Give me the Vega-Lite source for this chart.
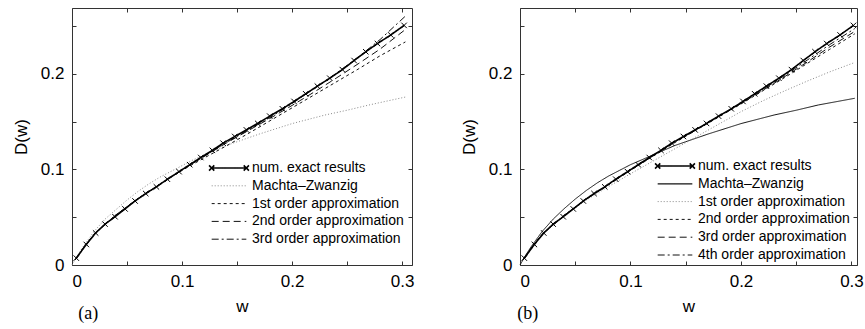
{
  "$schema": "https://vega.github.io/schema/vega-lite/v6.json",
  "padding": {"left": 11, "top": 7, "right": 0, "bottom": 0},
  "background": "white",
  "config": {
    "font": "Liberation Sans",
    "view": {"stroke": "#333", "strokeWidth": 1},
    "axis": {"grid": false, "domain": false, "labelFont": "Liberation Sans", "labelFontSize": 17, "labelColor": "#000", "titleFont": "Liberation Sans", "titleFontSize": 17, "titleFontWeight": "normal", "titleColor": "#000", "tickColor": "#333", "tickSize": -4, "tickWidth": 1, "labelPadding": 12},
    "legend": {"labelFont": "Liberation Sans", "labelFontSize": 14, "labelColor": "#000", "symbolType": "stroke", "symbolSize": 1200, "symbolStrokeColor": "#000", "labelLimit": 0, "labelOffset": 16, "rowPadding": 3.8, "title": null, "orient": "none"}
  },
  "datasets": {
    "exact": [
      {"s": "num. exact results", "w": 0.0039, "D": 0.0072},
      {"s": "num. exact results", "w": 0.0130, "D": 0.0215},
      {"s": "num. exact results", "w": 0.0215, "D": 0.0335},
      {"s": "num. exact results", "w": 0.0300, "D": 0.0428},
      {"s": "num. exact results", "w": 0.0391, "D": 0.0505},
      {"s": "num. exact results", "w": 0.0482, "D": 0.0587},
      {"s": "num. exact results", "w": 0.0573, "D": 0.0670},
      {"s": "num. exact results", "w": 0.0670, "D": 0.0748},
      {"s": "num. exact results", "w": 0.0767, "D": 0.0818},
      {"s": "num. exact results", "w": 0.0867, "D": 0.0898},
      {"s": "num. exact results", "w": 0.0973, "D": 0.0977},
      {"s": "num. exact results", "w": 0.1070, "D": 0.1050},
      {"s": "num. exact results", "w": 0.1170, "D": 0.1125},
      {"s": "num. exact results", "w": 0.1276, "D": 0.1200},
      {"s": "num. exact results", "w": 0.1373, "D": 0.1275},
      {"s": "num. exact results", "w": 0.1479, "D": 0.1345},
      {"s": "num. exact results", "w": 0.1585, "D": 0.1414},
      {"s": "num. exact results", "w": 0.1688, "D": 0.1482},
      {"s": "num. exact results", "w": 0.1797, "D": 0.1558},
      {"s": "num. exact results", "w": 0.1912, "D": 0.1635},
      {"s": "num. exact results", "w": 0.2018, "D": 0.1712},
      {"s": "num. exact results", "w": 0.2124, "D": 0.1792},
      {"s": "num. exact results", "w": 0.2230, "D": 0.1872},
      {"s": "num. exact results", "w": 0.2343, "D": 0.1955},
      {"s": "num. exact results", "w": 0.2457, "D": 0.2045},
      {"s": "num. exact results", "w": 0.2564, "D": 0.2140},
      {"s": "num. exact results", "w": 0.2670, "D": 0.2232},
      {"s": "num. exact results", "w": 0.2776, "D": 0.2318},
      {"s": "num. exact results", "w": 0.2897, "D": 0.2408},
      {"s": "num. exact results", "w": 0.3018, "D": 0.2508}
    ],
    "curves": [
      {"p": "a", "s": "Machta–Zwanzig", "w": 0.000, "D": 0.000},
      {"p": "a", "s": "Machta–Zwanzig", "w": 0.005, "D": 0.010},
      {"p": "a", "s": "Machta–Zwanzig", "w": 0.010, "D": 0.019},
      {"p": "a", "s": "Machta–Zwanzig", "w": 0.020, "D": 0.035},
      {"p": "a", "s": "Machta–Zwanzig", "w": 0.030, "D": 0.048},
      {"p": "a", "s": "Machta–Zwanzig", "w": 0.040, "D": 0.058},
      {"p": "a", "s": "Machta–Zwanzig", "w": 0.050, "D": 0.068},
      {"p": "a", "s": "Machta–Zwanzig", "w": 0.060, "D": 0.077},
      {"p": "a", "s": "Machta–Zwanzig", "w": 0.070, "D": 0.085},
      {"p": "a", "s": "Machta–Zwanzig", "w": 0.080, "D": 0.092},
      {"p": "a", "s": "Machta–Zwanzig", "w": 0.090, "D": 0.098},
      {"p": "a", "s": "Machta–Zwanzig", "w": 0.100, "D": 0.104},
      {"p": "a", "s": "Machta–Zwanzig", "w": 0.110, "D": 0.110},
      {"p": "a", "s": "Machta–Zwanzig", "w": 0.120, "D": 0.115},
      {"p": "a", "s": "Machta–Zwanzig", "w": 0.130, "D": 0.120},
      {"p": "a", "s": "Machta–Zwanzig", "w": 0.140, "D": 0.125},
      {"p": "a", "s": "Machta–Zwanzig", "w": 0.150, "D": 0.129},
      {"p": "a", "s": "Machta–Zwanzig", "w": 0.170, "D": 0.137},
      {"p": "a", "s": "Machta–Zwanzig", "w": 0.200, "D": 0.148},
      {"p": "a", "s": "Machta–Zwanzig", "w": 0.230, "D": 0.157},
      {"p": "a", "s": "Machta–Zwanzig", "w": 0.250, "D": 0.162},
      {"p": "a", "s": "Machta–Zwanzig", "w": 0.270, "D": 0.1675},
      {"p": "a", "s": "Machta–Zwanzig", "w": 0.303, "D": 0.1758},

      {"p": "a", "s": "1st order approximation", "w": 0.003, "D": 0.0055},
      {"p": "a", "s": "1st order approximation", "w": 0.010, "D": 0.0175},
      {"p": "a", "s": "1st order approximation", "w": 0.020, "D": 0.0320},
      {"p": "a", "s": "1st order approximation", "w": 0.040, "D": 0.0525},
      {"p": "a", "s": "1st order approximation", "w": 0.060, "D": 0.0695},
      {"p": "a", "s": "1st order approximation", "w": 0.080, "D": 0.0845},
      {"p": "a", "s": "1st order approximation", "w": 0.100, "D": 0.0990},
      {"p": "a", "s": "1st order approximation", "w": 0.120, "D": 0.1120},
      {"p": "a", "s": "1st order approximation", "w": 0.140, "D": 0.1245},
      {"p": "a", "s": "1st order approximation", "w": 0.160, "D": 0.1375},
      {"p": "a", "s": "1st order approximation", "w": 0.180, "D": 0.1510},
      {"p": "a", "s": "1st order approximation", "w": 0.200, "D": 0.1645},
      {"p": "a", "s": "1st order approximation", "w": 0.220, "D": 0.1780},
      {"p": "a", "s": "1st order approximation", "w": 0.240, "D": 0.1915},
      {"p": "a", "s": "1st order approximation", "w": 0.260, "D": 0.2050},
      {"p": "a", "s": "1st order approximation", "w": 0.280, "D": 0.2190},
      {"p": "a", "s": "1st order approximation", "w": 0.303, "D": 0.2335},

      {"p": "a", "s": "2nd order approximation", "w": 0.003, "D": 0.0055},
      {"p": "a", "s": "2nd order approximation", "w": 0.010, "D": 0.0175},
      {"p": "a", "s": "2nd order approximation", "w": 0.020, "D": 0.0320},
      {"p": "a", "s": "2nd order approximation", "w": 0.040, "D": 0.0525},
      {"p": "a", "s": "2nd order approximation", "w": 0.060, "D": 0.0695},
      {"p": "a", "s": "2nd order approximation", "w": 0.080, "D": 0.0845},
      {"p": "a", "s": "2nd order approximation", "w": 0.100, "D": 0.0995},
      {"p": "a", "s": "2nd order approximation", "w": 0.120, "D": 0.1135},
      {"p": "a", "s": "2nd order approximation", "w": 0.140, "D": 0.1275},
      {"p": "a", "s": "2nd order approximation", "w": 0.160, "D": 0.1405},
      {"p": "a", "s": "2nd order approximation", "w": 0.180, "D": 0.1535},
      {"p": "a", "s": "2nd order approximation", "w": 0.200, "D": 0.1670},
      {"p": "a", "s": "2nd order approximation", "w": 0.220, "D": 0.1810},
      {"p": "a", "s": "2nd order approximation", "w": 0.240, "D": 0.1955},
      {"p": "a", "s": "2nd order approximation", "w": 0.260, "D": 0.2105},
      {"p": "a", "s": "2nd order approximation", "w": 0.280, "D": 0.2260},
      {"p": "a", "s": "2nd order approximation", "w": 0.303, "D": 0.2465},

      {"p": "a", "s": "3rd order approximation", "w": 0.003, "D": 0.0055},
      {"p": "a", "s": "3rd order approximation", "w": 0.010, "D": 0.0175},
      {"p": "a", "s": "3rd order approximation", "w": 0.020, "D": 0.0320},
      {"p": "a", "s": "3rd order approximation", "w": 0.040, "D": 0.0525},
      {"p": "a", "s": "3rd order approximation", "w": 0.060, "D": 0.0695},
      {"p": "a", "s": "3rd order approximation", "w": 0.080, "D": 0.0845},
      {"p": "a", "s": "3rd order approximation", "w": 0.100, "D": 0.0995},
      {"p": "a", "s": "3rd order approximation", "w": 0.120, "D": 0.1140},
      {"p": "a", "s": "3rd order approximation", "w": 0.140, "D": 0.1280},
      {"p": "a", "s": "3rd order approximation", "w": 0.160, "D": 0.1410},
      {"p": "a", "s": "3rd order approximation", "w": 0.180, "D": 0.1545},
      {"p": "a", "s": "3rd order approximation", "w": 0.200, "D": 0.1690},
      {"p": "a", "s": "3rd order approximation", "w": 0.220, "D": 0.1845},
      {"p": "a", "s": "3rd order approximation", "w": 0.240, "D": 0.2005},
      {"p": "a", "s": "3rd order approximation", "w": 0.260, "D": 0.2175},
      {"p": "a", "s": "3rd order approximation", "w": 0.280, "D": 0.2360},
      {"p": "a", "s": "3rd order approximation", "w": 0.303, "D": 0.2605},

      {"p": "b", "s": "Machta–Zwanzig", "w": 0.000, "D": 0.000},
      {"p": "b", "s": "Machta–Zwanzig", "w": 0.005, "D": 0.010},
      {"p": "b", "s": "Machta–Zwanzig", "w": 0.010, "D": 0.019},
      {"p": "b", "s": "Machta–Zwanzig", "w": 0.020, "D": 0.035},
      {"p": "b", "s": "Machta–Zwanzig", "w": 0.030, "D": 0.048},
      {"p": "b", "s": "Machta–Zwanzig", "w": 0.040, "D": 0.059},
      {"p": "b", "s": "Machta–Zwanzig", "w": 0.050, "D": 0.069},
      {"p": "b", "s": "Machta–Zwanzig", "w": 0.060, "D": 0.078},
      {"p": "b", "s": "Machta–Zwanzig", "w": 0.070, "D": 0.086},
      {"p": "b", "s": "Machta–Zwanzig", "w": 0.080, "D": 0.093},
      {"p": "b", "s": "Machta–Zwanzig", "w": 0.090, "D": 0.099},
      {"p": "b", "s": "Machta–Zwanzig", "w": 0.100, "D": 0.105},
      {"p": "b", "s": "Machta–Zwanzig", "w": 0.110, "D": 0.110},
      {"p": "b", "s": "Machta–Zwanzig", "w": 0.120, "D": 0.115},
      {"p": "b", "s": "Machta–Zwanzig", "w": 0.130, "D": 0.120},
      {"p": "b", "s": "Machta–Zwanzig", "w": 0.140, "D": 0.125},
      {"p": "b", "s": "Machta–Zwanzig", "w": 0.150, "D": 0.129},
      {"p": "b", "s": "Machta–Zwanzig", "w": 0.170, "D": 0.137},
      {"p": "b", "s": "Machta–Zwanzig", "w": 0.200, "D": 0.148},
      {"p": "b", "s": "Machta–Zwanzig", "w": 0.230, "D": 0.157},
      {"p": "b", "s": "Machta–Zwanzig", "w": 0.250, "D": 0.162},
      {"p": "b", "s": "Machta–Zwanzig", "w": 0.270, "D": 0.1675},
      {"p": "b", "s": "Machta–Zwanzig", "w": 0.303, "D": 0.1745},

      {"p": "b", "s": "1st order approximation", "w": 0.003, "D": 0.0055},
      {"p": "b", "s": "1st order approximation", "w": 0.010, "D": 0.0175},
      {"p": "b", "s": "1st order approximation", "w": 0.020, "D": 0.0315},
      {"p": "b", "s": "1st order approximation", "w": 0.040, "D": 0.0515},
      {"p": "b", "s": "1st order approximation", "w": 0.060, "D": 0.0680},
      {"p": "b", "s": "1st order approximation", "w": 0.080, "D": 0.0820},
      {"p": "b", "s": "1st order approximation", "w": 0.100, "D": 0.0955},
      {"p": "b", "s": "1st order approximation", "w": 0.120, "D": 0.1085},
      {"p": "b", "s": "1st order approximation", "w": 0.140, "D": 0.1215},
      {"p": "b", "s": "1st order approximation", "w": 0.160, "D": 0.1345},
      {"p": "b", "s": "1st order approximation", "w": 0.180, "D": 0.1475},
      {"p": "b", "s": "1st order approximation", "w": 0.200, "D": 0.1605},
      {"p": "b", "s": "1st order approximation", "w": 0.220, "D": 0.1720},
      {"p": "b", "s": "1st order approximation", "w": 0.240, "D": 0.1825},
      {"p": "b", "s": "1st order approximation", "w": 0.260, "D": 0.1925},
      {"p": "b", "s": "1st order approximation", "w": 0.280, "D": 0.2020},
      {"p": "b", "s": "1st order approximation", "w": 0.303, "D": 0.2120},

      {"p": "b", "s": "2nd order approximation", "w": 0.003, "D": 0.0055},
      {"p": "b", "s": "2nd order approximation", "w": 0.010, "D": 0.0175},
      {"p": "b", "s": "2nd order approximation", "w": 0.020, "D": 0.0320},
      {"p": "b", "s": "2nd order approximation", "w": 0.040, "D": 0.0520},
      {"p": "b", "s": "2nd order approximation", "w": 0.060, "D": 0.0690},
      {"p": "b", "s": "2nd order approximation", "w": 0.080, "D": 0.0840},
      {"p": "b", "s": "2nd order approximation", "w": 0.100, "D": 0.0990},
      {"p": "b", "s": "2nd order approximation", "w": 0.120, "D": 0.1135},
      {"p": "b", "s": "2nd order approximation", "w": 0.140, "D": 0.1280},
      {"p": "b", "s": "2nd order approximation", "w": 0.160, "D": 0.1415},
      {"p": "b", "s": "2nd order approximation", "w": 0.180, "D": 0.1550},
      {"p": "b", "s": "2nd order approximation", "w": 0.200, "D": 0.1685},
      {"p": "b", "s": "2nd order approximation", "w": 0.220, "D": 0.1825},
      {"p": "b", "s": "2nd order approximation", "w": 0.240, "D": 0.1965},
      {"p": "b", "s": "2nd order approximation", "w": 0.260, "D": 0.2110},
      {"p": "b", "s": "2nd order approximation", "w": 0.280, "D": 0.2255},
      {"p": "b", "s": "2nd order approximation", "w": 0.303, "D": 0.2420},

      {"p": "b", "s": "3rd order approximation", "w": 0.003, "D": 0.0055},
      {"p": "b", "s": "3rd order approximation", "w": 0.010, "D": 0.0175},
      {"p": "b", "s": "3rd order approximation", "w": 0.020, "D": 0.0320},
      {"p": "b", "s": "3rd order approximation", "w": 0.040, "D": 0.0520},
      {"p": "b", "s": "3rd order approximation", "w": 0.060, "D": 0.0690},
      {"p": "b", "s": "3rd order approximation", "w": 0.080, "D": 0.0840},
      {"p": "b", "s": "3rd order approximation", "w": 0.100, "D": 0.0993},
      {"p": "b", "s": "3rd order approximation", "w": 0.120, "D": 0.1140},
      {"p": "b", "s": "3rd order approximation", "w": 0.140, "D": 0.1285},
      {"p": "b", "s": "3rd order approximation", "w": 0.160, "D": 0.1420},
      {"p": "b", "s": "3rd order approximation", "w": 0.180, "D": 0.1555},
      {"p": "b", "s": "3rd order approximation", "w": 0.200, "D": 0.1690},
      {"p": "b", "s": "3rd order approximation", "w": 0.220, "D": 0.1830},
      {"p": "b", "s": "3rd order approximation", "w": 0.240, "D": 0.1975},
      {"p": "b", "s": "3rd order approximation", "w": 0.260, "D": 0.2125},
      {"p": "b", "s": "3rd order approximation", "w": 0.280, "D": 0.2280},
      {"p": "b", "s": "3rd order approximation", "w": 0.303, "D": 0.2445},

      {"p": "b", "s": "4th order approximation", "w": 0.003, "D": 0.0055},
      {"p": "b", "s": "4th order approximation", "w": 0.010, "D": 0.0175},
      {"p": "b", "s": "4th order approximation", "w": 0.020, "D": 0.0320},
      {"p": "b", "s": "4th order approximation", "w": 0.040, "D": 0.0520},
      {"p": "b", "s": "4th order approximation", "w": 0.060, "D": 0.0692},
      {"p": "b", "s": "4th order approximation", "w": 0.080, "D": 0.0842},
      {"p": "b", "s": "4th order approximation", "w": 0.100, "D": 0.0995},
      {"p": "b", "s": "4th order approximation", "w": 0.120, "D": 0.1142},
      {"p": "b", "s": "4th order approximation", "w": 0.140, "D": 0.1288},
      {"p": "b", "s": "4th order approximation", "w": 0.160, "D": 0.1422},
      {"p": "b", "s": "4th order approximation", "w": 0.180, "D": 0.1558},
      {"p": "b", "s": "4th order approximation", "w": 0.200, "D": 0.1695},
      {"p": "b", "s": "4th order approximation", "w": 0.220, "D": 0.1838},
      {"p": "b", "s": "4th order approximation", "w": 0.240, "D": 0.1987},
      {"p": "b", "s": "4th order approximation", "w": 0.260, "D": 0.2145},
      {"p": "b", "s": "4th order approximation", "w": 0.280, "D": 0.2305},
      {"p": "b", "s": "4th order approximation", "w": 0.303, "D": 0.2475}
    ]
  },
  "hconcat": [
    {
      "width": 340,
      "height": 257,
      "title": {"text": "(a)", "orient": "bottom", "anchor": "start", "font": "Liberation Serif", "fontSize": 18, "fontWeight": "normal", "offset": -9, "dx": 66},
      "resolve": {"axis": {"x": "independent", "y": "independent"}},
      "layer": [
        {
          "data": {"name": "curves"},
          "transform": [{"filter": "datum.p === 'a'"}],
          "mark": {"type": "line", "strokeWidth": 1},
          "encoding": {
            "x": {"field": "w", "type": "quantitative", "scale": {"domain": [0, 0.309], "nice": false}, "axis": {"title": "w", "values": [0, 0.05, 0.1, 0.15, 0.2, 0.25, 0.3], "format": "~g", "labelExpr": "indexof(['0','0.1','0.2','0.3'], datum.label) >= 0 ? datum.label : ''", "titlePadding": 9}},
            "y": {"field": "D", "type": "quantitative", "scale": {"domain": [0, 0.269], "nice": false}, "axis": {"title": "D(w)", "values": [0, 0.05, 0.1, 0.15, 0.2, 0.25], "format": "~g", "labelExpr": "indexof(['0','0.1','0.2'], datum.label) >= 0 ? datum.label : ''", "titlePadding": 10}},
            "detail": {"field": "s"},
            "strokeDash": {"field": "s", "type": "nominal", "scale": {"domain": ["num. exact results", "Machta–Zwanzig", "1st order approximation", "2nd order approximation", "3rd order approximation"], "range": [[1, 0], [1, 2], [3, 3], [7, 4], [7, 3, 2, 3]]},
              "legend": {"legendX": 150, "legendY": 153, "encode": {"symbols": {"update": {"shape": {"signal": "datum.label === 'num. exact results' ? 'M-1,0L1,0M-1.15,-0.15L-0.85,0.15M-1.15,0.15L-0.85,-0.15M0.85,-0.15L1.15,0.15M0.85,0.15L1.15,-0.15' : 'stroke'"}, "strokeWidth": {"signal": "datum.label === 'num. exact results' ? 1.6 : 1"}}}}}},
            "color": {"field": "s", "type": "nominal", "scale": {"domain": ["num. exact results", "Machta–Zwanzig", "1st order approximation", "2nd order approximation", "3rd order approximation"], "range": ["#000", "#888", "#111", "#111", "#111"]}}
          }
        },
        {
          "data": {"name": "exact"},
          "mark": {"type": "line", "strokeWidth": 1.6, "color": "#000"},
          "encoding": {
            "x": {"field": "w", "type": "quantitative", "axis": null},
            "y": {"field": "D", "type": "quantitative", "axis": null},
            "strokeDash": {"field": "s", "type": "nominal"},
            "color": {"field": "s", "type": "nominal"}
          }
        },
        {
          "data": {"name": "exact"},
          "mark": {"type": "point", "shape": "M-1,-1L1,1M-1,1L1,-1", "size": 30, "filled": false, "stroke": "#000", "strokeWidth": 1, "opacity": 1},
          "encoding": {
            "x": {"field": "w", "type": "quantitative", "axis": {"orient": "top", "labels": false, "title": null, "values": [0, 0.05, 0.1, 0.15, 0.2, 0.25, 0.3]}},
            "y": {"field": "D", "type": "quantitative", "axis": {"orient": "right", "labels": false, "title": null, "values": [0, 0.05, 0.1, 0.15, 0.2, 0.25]}}
          }
        }
      ]
    },
    {
      "width": 337,
      "height": 257,
      "title": {"text": "(b)", "orient": "bottom", "anchor": "start", "font": "Liberation Serif", "fontSize": 18, "fontWeight": "normal", "offset": -9, "dx": 57},
      "resolve": {"axis": {"x": "independent", "y": "independent"}},
      "layer": [
        {
          "data": {"name": "curves"},
          "transform": [{"filter": "datum.p === 'b'"}],
          "mark": {"type": "line", "strokeWidth": 1},
          "encoding": {
            "x": {"field": "w", "type": "quantitative", "scale": {"domain": [0, 0.305], "nice": false}, "axis": {"title": "w", "values": [0, 0.05, 0.1, 0.15, 0.2, 0.25, 0.3], "format": "~g", "labelExpr": "indexof(['0','0.1','0.2','0.3'], datum.label) >= 0 ? datum.label : ''", "titlePadding": 9}},
            "y": {"field": "D", "type": "quantitative", "scale": {"domain": [0, 0.269], "nice": false}, "axis": {"title": "D(w)", "values": [0, 0.05, 0.1, 0.15, 0.2, 0.25], "format": "~g", "labelExpr": "indexof(['0','0.1','0.2'], datum.label) >= 0 ? datum.label : ''", "titlePadding": 10}},
            "detail": {"field": "s"},
            "strokeDash": {"field": "s", "type": "nominal", "scale": {"domain": ["num. exact results", "Machta–Zwanzig", "1st order approximation", "2nd order approximation", "3rd order approximation", "4th order approximation"], "range": [[1, 0], [1, 0], [1, 2], [3, 3], [7, 4], [7, 3, 2, 3]]},
              "legend": {"legendX": 148, "legendY": 151, "encode": {"symbols": {"update": {"shape": {"signal": "datum.label === 'num. exact results' ? 'M-1,0L1,0M-1.15,-0.15L-0.85,0.15M-1.15,0.15L-0.85,-0.15M0.85,-0.15L1.15,0.15M0.85,0.15L1.15,-0.15' : 'stroke'"}, "strokeWidth": {"signal": "datum.label === 'num. exact results' ? 1.6 : (datum.label === 'Machta–Zwanzig' ? 1.3 : 1)"}}}}}},
            "color": {"field": "s", "type": "nominal", "scale": {"domain": ["num. exact results", "Machta–Zwanzig", "1st order approximation", "2nd order approximation", "3rd order approximation", "4th order approximation"], "range": ["#000", "#111", "#888", "#111", "#111", "#111"]}}
          }
        },
        {
          "data": {"name": "exact"},
          "mark": {"type": "line", "strokeWidth": 1.6, "color": "#000"},
          "encoding": {
            "x": {"field": "w", "type": "quantitative", "axis": null},
            "y": {"field": "D", "type": "quantitative", "axis": null},
            "strokeDash": {"field": "s", "type": "nominal"},
            "color": {"field": "s", "type": "nominal"}
          }
        },
        {
          "data": {"name": "exact"},
          "mark": {"type": "point", "shape": "M-1,-1L1,1M-1,1L1,-1", "size": 30, "filled": false, "stroke": "#000", "strokeWidth": 1, "opacity": 1},
          "encoding": {
            "x": {"field": "w", "type": "quantitative", "axis": {"orient": "top", "labels": false, "title": null, "values": [0, 0.05, 0.1, 0.15, 0.2, 0.25, 0.3]}},
            "y": {"field": "D", "type": "quantitative", "axis": {"orient": "right", "labels": false, "title": null, "values": [0, 0.05, 0.1, 0.15, 0.2, 0.25]}}
          }
        }
      ]
    }
  ],
  "spacing": 44,
  "resolve": {"scale": {"strokeDash": "independent", "color": "independent"}, "legend": {"strokeDash": "independent", "color": "independent"}}
}
